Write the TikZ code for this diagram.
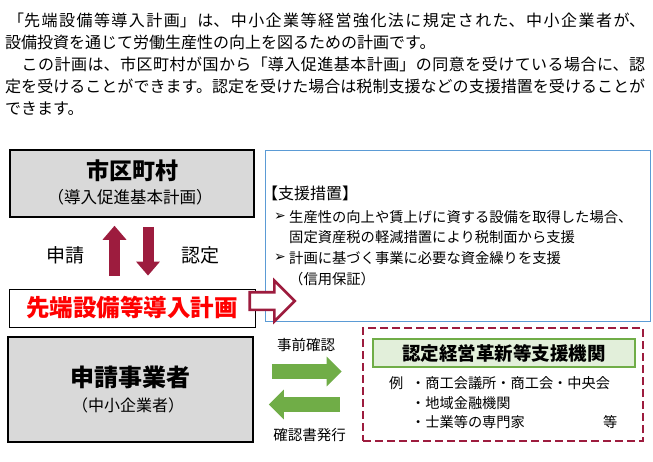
\documentclass[tikz,border=0pt]{standalone}
\usepackage{fontspec}
\setmainfont{Noto Sans CJK JP}
\newfontfamily\dejavu{DejaVu Sans}
\usetikzlibrary{arrows.meta, positioning, calc, shapes.arrows}
\XeTeXlinebreaklocale "ja"
\XeTeXlinebreakskip=0pt plus 2pt minus 0.3pt
\definecolor{boxgray}{RGB}{217,217,217}
\definecolor{wine}{RGB}{157,28,62}
\definecolor{supblue}{RGB}{91,155,213}
\definecolor{leaf}{RGB}{112,173,71}
\definecolor{leaflight}{RGB}{226,239,218}
\newcommand{\fsz}[1]{\fontsize{#1}{#1}\selectfont}
\tikzset{
  graybox/.style={draw, line width=1.5pt, fill=boxgray, inner sep=0pt},
  planbox/.style={draw, line width=0.8pt, fill=white, inner sep=0pt, font=\fsz{23.5}\bfseries, text=red},
  supbox/.style={draw=supblue, line width=0.9pt, fill=white, inner sep=0pt},
  orgbox/.style={draw=wine, line width=2.6pt, dash pattern=on 8pt off 4pt, inner sep=0pt},
  orgtitle/.style={draw=leaf, line width=2pt, fill=leaflight, inner sep=0pt, font=\fsz{18.5}\bfseries},
  bigtitle/.style={inner sep=0pt, font=\fsz{23}\bfseries},
  subtitle/.style={inner sep=0pt, font=\fsz{16.5}},
  sidetext/.style={inner sep=0pt, font=\fsz{19}},
  smalltext/.style={inner sep=0pt, font=\fsz{14.5}},
  itemtext/.style={inner sep=0pt, anchor=west, font=\fsz{14.3}},
  listtext/.style={inner sep=0pt, anchor=west, font=\fsz{14.2}},
  bulletmark/.style={inner sep=0pt, font=\dejavu\fsz{14}},
  updown/.style={line width=11pt, wine, -{Triangle[length=14pt, width=23pt]}},
  flow/.style={line width=15pt, leaf, -{Triangle[length=15pt, width=29pt]}},
  outarrow/.style={single arrow, draw=wine, line width=2.6pt, fill=white, inner xsep=0pt, inner ysep=7.5pt,
    minimum height=45pt, single arrow head extend=11.5pt}
}
\begin{document}
\begin{tikzpicture}[x=1pt, y=-1pt]
  \path[use as bounding box, fill=white] (0,0) rectangle (653,461);

  \node[anchor=north west, inner sep=0pt, text width=640pt, align=justify, font=\fontsize{16}{22}\selectfont] (intro) at (5,13)
    {\hspace*{3pt}「先端設備等導入計画」は、中小企業等経営強化法に規定された、中小企業者が、\linebreak
     設備投資を通じて労働生産性の向上を図るための計画です。\par
     　この計画は、市区町村が国から「導入促進基本計画」の同意を受けている場合に、認\linebreak
     定を受けることができます。認定を受けた場合は税制支援などの支援措置を受けることが\linebreak
     できます。};

  \node[graybox, minimum width=244pt, minimum height=67pt] (city) at (132,183.5) {};
  \node[bigtitle] (cityname) at (132,171) {市区町村};
  \node[subtitle] (citysub) at (130,197) {（導入促進基本計画）};

  \node[planbox, minimum width=246pt, minimum height=38pt] (plan) at (132,308) {先端設備等導入計画};
  \draw[updown] ([xshift=-17.5pt, yshift=13pt]plan.north) -- ([xshift=-17.5pt, yshift=-8pt]city.south);
  \draw[updown] ([xshift=16pt, yshift=-9pt]city.south) -- ([xshift=16pt, yshift=13pt]plan.north);
  \node[sidetext] (apply) at (65,255) {申請};
  \node[sidetext] (approve) at (200,255) {認定};

  \node[supbox, minimum width=385pt, minimum height=171pt] (support) at (457.5,235.5) {};
  \node[subtitle, anchor=west, font=\fsz{16}] (suphead) at (262,193) {【支援措置】};
  \node[itemtext] (tax) at (289,217) {生産性の向上や賃上げに資する設備を取得した場合、};
  \node[itemtext] (taxb) at (289,237) {固定資産税の軽減措置により税制面から支援};
  \node[itemtext] (fund) at (289,258) {計画に基づく事業に必要な資金繰りを支援};
  \node[itemtext] (fundb) at (289,279) {（信用保証）};
  \node[bulletmark, left=3pt of tax] {➢};
  \node[bulletmark, left=3pt of fund] {➢};

  \node[outarrow, anchor=west] (toward) at ([xshift=-7pt, yshift=7pt]plan.east) {};

  \node[graybox, minimum width=245pt, minimum height=105pt] (applicant) at (130.5,389.5) {};
  \node[bigtitle, font=\fsz{24}\bfseries] (appname) at (130,377) {申請事業者};
  \node[subtitle, font=\fsz{16}] (appsub) at (128,405) {（中小企業者）};

  \node[orgbox, minimum width=280pt, minimum height=113pt] (org) at (503,384.5) {};
  \node[orgtitle, minimum width=262pt, minimum height=28pt] (orgname) at (504,353) {認定経営革新等支援機関};
  \node[listtext] (example) at (389,383) {例};
  \node[listtext] (chamber) at (411,383) {・商工会議所・商工会・中央会};
  \node[listtext] (bank) at (411,403) {・地域金融機関};
  \node[listtext] (expert) at (411,422) {・士業等の専門家};
  \node[listtext] (etc) at (603,422) {等};

  \draw[flow] ([xshift=18pt, yshift=18pt]applicant.east) -- ([xshift=-20pt, yshift=13pt]org.west);
  \draw[flow] ([xshift=-22pt, yshift=-20pt]org.west) -- ([xshift=15pt, yshift=-15pt]applicant.east);
  \node[smalltext] (precheck) at (306,345) {事前確認};
  \node[smalltext] (issue) at (309.5,435) {確認書発行};
\end{tikzpicture}
\end{document}
